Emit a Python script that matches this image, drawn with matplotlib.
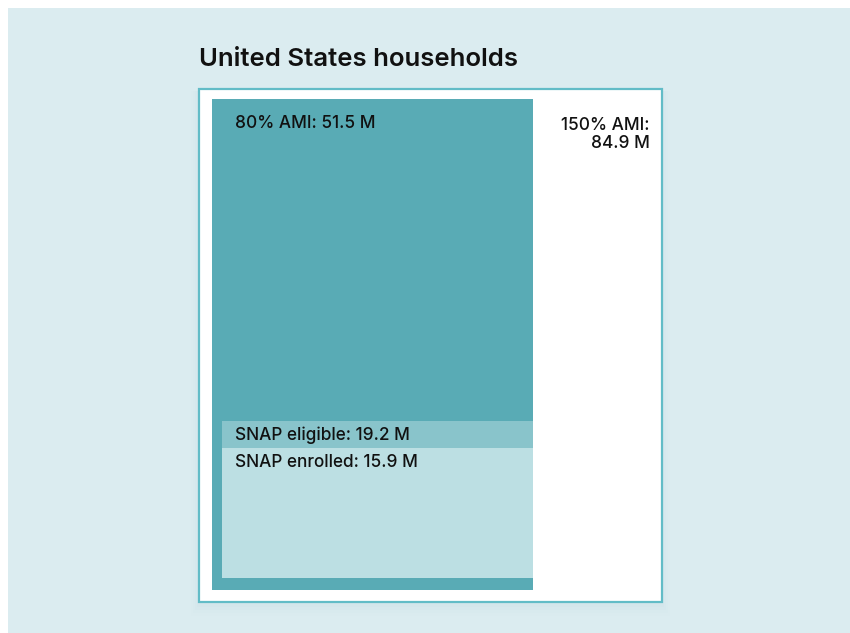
import matplotlib.pyplot as plt
from matplotlib.patches import Rectangle

plt.rcParams['font.family'] = ['Inter', 'DejaVu Sans']

# values (millions of households)
title = "United States households"
labels = ["150% AMI", "80% AMI", "SNAP eligible", "SNAP enrolled"]
values = [84.9, 51.5, 19.2, 15.9]

# colours
page_bg = "#dbecf0"
box_edge = "#62bcc7"
c_80 = "#59abb5"
c_elig = "#89c4cb"
c_enr = "#bcdfe3"

# layout (pixel units, y downward)
box_x, box_y, box_w, box_h = 199.5, 88.5, 463, 513
r80_x, r80_y, r80_w, r80_h = 212, 99, 321, 491
snap_x, snap_w, snap_bottom = 222, 311, 578
px_per_m = 8.18  # height of the SNAP bands per million households

fig = plt.figure(figsize=(8.5, 6.33), dpi=100)
fig.patch.set_facecolor("white")
ax = fig.add_axes([0, 0, 1, 1])
ax.set_xlim(0, 850)
ax.set_ylim(633, 0)
ax.axis("off")

ax.add_patch(Rectangle((8, 8), 850, 640, facecolor=page_bg, edgecolor="none"))

# soft shadow under the box
for i, a in enumerate([0.02, 0.015, 0.012, 0.008]):
    d = 2 + i * 2
    ax.add_patch(Rectangle((box_x - d, box_y + 2), box_w + 2 * d, box_h + d * 1.5,
                           facecolor="#7fa9b3", alpha=a, edgecolor="none"))

ax.add_patch(Rectangle((box_x, box_y), box_w, box_h, facecolor="white",
                       edgecolor=box_edge, linewidth=1.6))
ax.add_patch(Rectangle((r80_x, r80_y), r80_w, r80_h, facecolor=c_80, edgecolor="none"))

h_elig = values[2] * px_per_m
h_enr = values[3] * px_per_m
ax.add_patch(Rectangle((snap_x, snap_bottom - h_elig), snap_w, h_elig,
                       facecolor=c_elig, edgecolor="none"))
ax.add_patch(Rectangle((snap_x, snap_bottom - h_enr), snap_w, h_enr,
                       facecolor=c_enr, edgecolor="none"))

txt = dict(fontsize=12.4, color="#111111", fontweight="medium")
ax.text(199, 59, title, fontsize=18.5, fontweight="semibold", color="#111111",
        va="center", ha="left")
ax.text(235, 124, f"{labels[1]}: {values[1]} M", va="center", ha="left", **txt)
ax.text(650, 134.5, f"{labels[0]}:\n{values[0]} M", va="center", ha="right",
        linespacing=1.15, **txt)
ax.text(235, snap_bottom - h_elig + 14, f"{labels[2]}: {values[2]} M",
        va="center", ha="left", **txt)
ax.text(235, snap_bottom - h_enr + 15, f"{labels[3]}: {values[3]} M",
        va="center", ha="left", **txt)

fig.savefig("out.png", dpi=100, facecolor=fig.get_facecolor())
